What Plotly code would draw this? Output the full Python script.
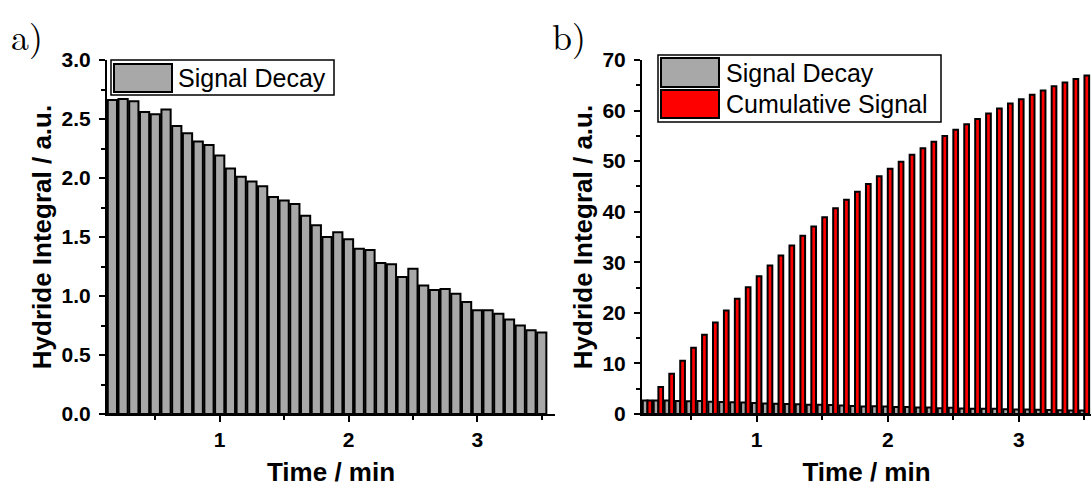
import plotly.graph_objects as go

# ---- data ----
time_min = [0.1667, 0.25, 0.3333, 0.4167, 0.5, 0.5833, 0.6667, 0.75, 0.8333, 0.9167,
            1.0, 1.0833, 1.1667, 1.25, 1.3333, 1.4167, 1.5, 1.5833, 1.6667, 1.75,
            1.8333, 1.9167, 2.0, 2.0833, 2.1667, 2.25, 2.3333, 2.4167, 2.5, 2.5833,
            2.6667, 2.75, 2.8333, 2.9167, 3.0, 3.0833, 3.1667, 3.25, 3.3333, 3.4167, 3.5]

signal_decay = [2.66, 2.67, 2.65, 2.56, 2.54, 2.58, 2.44, 2.38, 2.31, 2.28,
                2.19, 2.08, 2.01, 1.97, 1.93, 1.84, 1.81, 1.78, 1.68, 1.60,
                1.50, 1.54, 1.48, 1.40, 1.39, 1.28, 1.27, 1.16, 1.23, 1.09,
                1.05, 1.06, 1.02, 0.95, 0.88, 0.88, 0.85, 0.80, 0.75, 0.71, 0.69]

cumulative_signal = [2.66, 5.33, 7.98, 10.54, 13.08, 15.66, 18.10, 20.48, 22.79, 25.07,
                     27.26, 29.34, 31.35, 33.32, 35.25, 37.09, 38.90, 40.68, 42.36, 43.96,
                     45.46, 47.00, 48.48, 49.88, 51.27, 52.55, 53.82, 54.98, 56.21, 57.30,
                     58.35, 59.41, 60.43, 61.38, 62.26, 63.14, 63.99, 64.79, 65.54, 66.25, 66.94]

x_title = "Time / min"
y_title = "Hydride Integral / a.u."
legend_a = ["Signal Decay"]
legend_b = ["Signal Decay", "Cumulative Signal"]

GRAY = "#a8a8a8"
RED = "#ff0000"
W, H = 1091, 487
FONT = "Arial, Liberation Sans, sans-serif"
SERIF = "Latin Modern Roman, DejaVu Serif, Liberation Serif, serif"


def px(x):
    return x / W


def py(y):
    return 1 - y / H


fig = go.Figure()

bar_line = dict(color="black", width=2)
fig.add_trace(go.Bar(x=time_min, y=signal_decay, name=legend_a[0], marker=dict(color=GRAY, line=bar_line),
                     xaxis="x", yaxis="y", showlegend=False))
fig.add_trace(go.Bar(x=time_min, y=signal_decay, name=legend_b[0], marker=dict(color=GRAY, line=bar_line),
                     xaxis="x2", yaxis="y2", showlegend=False))
fig.add_trace(go.Bar(x=time_min, y=cumulative_signal, name=legend_b[1], marker=dict(color=RED, line=bar_line),
                     xaxis="x2", yaxis="y2", showlegend=False))

tickfont = dict(family=FONT, size=21, color="black", weight="bold")
titlefont = dict(family=FONT, size=26, color="black", weight="bold")

common_x = dict(showline=True, linecolor="black", linewidth=2, ticks="outside", ticklen=6, tickwidth=2,
                tickcolor="black", dtick=1, tick0=0, showgrid=False, zeroline=False, tickfont=tickfont,
                automargin=False,
                minor=dict(dtick=0.5, tick0=0, ticks="outside", ticklen=4, tickwidth=2, tickcolor="black", showgrid=False),
                title=dict(text=x_title, font=titlefont, standoff=15))
common_y = dict(showline=True, linecolor="black", linewidth=2, ticks="outside", ticklen=6, tickwidth=2,
                tickcolor="black", showgrid=False, zeroline=False, tickfont=tickfont, ticklabelstandoff=4,
                automargin=False,
                title=dict(text=y_title, font=titlefont, standoff=2))

yb0, yt0 = 414, 60
fig.update_layout(
    width=W, height=H,
    margin=dict(l=0, r=0, t=0, b=0, pad=0),
    paper_bgcolor="white", plot_bgcolor="white",
    barmode="group", bargap=0.14, bargroupgap=0,
    showlegend=False,
    xaxis=dict(common_x, domain=[px(107), px(555)], range=[0.125, 3.603], anchor="y"),
    yaxis=dict(common_y, domain=[py(yb0), py(yt0)], range=[0, 3], dtick=0.5, tickformat=".1f",
               minor=dict(dtick=0.25, ticks="outside", ticklen=4, tickwidth=2, tickcolor="black", showgrid=False),
               anchor="x"),
    xaxis2=dict(common_x, domain=[px(642), 1.0], range=[0.125, 3.55], anchor="y2"),
    yaxis2=dict(common_y, domain=[py(yb0), py(yt0)], range=[0, 70], dtick=10,
                minor=dict(dtick=5, ticks="outside", ticklen=4, tickwidth=2, tickcolor="black", showgrid=False),
                anchor="x2"),
)

shapes = []
annotations = []


def legend_box(x0, y0, x1, y1):
    shapes.append(dict(type="rect", xref="paper", yref="paper", x0=px(x0), x1=px(x1), y0=py(y1), y1=py(y0),
                       line=dict(color="black", width=1.5), fillcolor="white", layer="above"))


def legend_item(x0, y0, x1, y1, color, text, tx):
    shapes.append(dict(type="rect", xref="paper", yref="paper", x0=px(x0), x1=px(x1), y0=py(y1), y1=py(y0),
                       line=dict(color="black", width=2), fillcolor=color, layer="above"))
    annotations.append(dict(xref="paper", yref="paper", x=px(tx), y=py((y0 + y1) / 2), text=text, showarrow=False,
                            xanchor="left", yanchor="middle", font=dict(family=FONT, size=25, color="black")))


# panel a legend
legend_box(111, 60, 334, 95)
legend_item(114, 64, 172, 92, GRAY, legend_a[0], 176)
# panel b legend
legend_box(658, 55, 941, 122)
legend_item(661, 58, 719, 87, GRAY, legend_b[0], 724)
legend_item(661, 90, 719, 118, RED, legend_b[1], 724)

# panel letters
annotations.append(dict(xref="paper", yref="paper", x=px(9), y=py(34), text="a)", showarrow=False,
                        xanchor="left", yanchor="middle", font=dict(family=SERIF, size=36, color="black")))
annotations.append(dict(xref="paper", yref="paper", x=px(550), y=py(34), text="b)", showarrow=False,
                        xanchor="left", yanchor="middle", font=dict(family=SERIF, size=36, color="black")))

fig.update_layout(shapes=shapes, annotations=annotations)

fig.write_html("out.html", config={"displayModeBar": False},
               post_script="document.body.style.margin='0';document.body.style.overflow='hidden';")
